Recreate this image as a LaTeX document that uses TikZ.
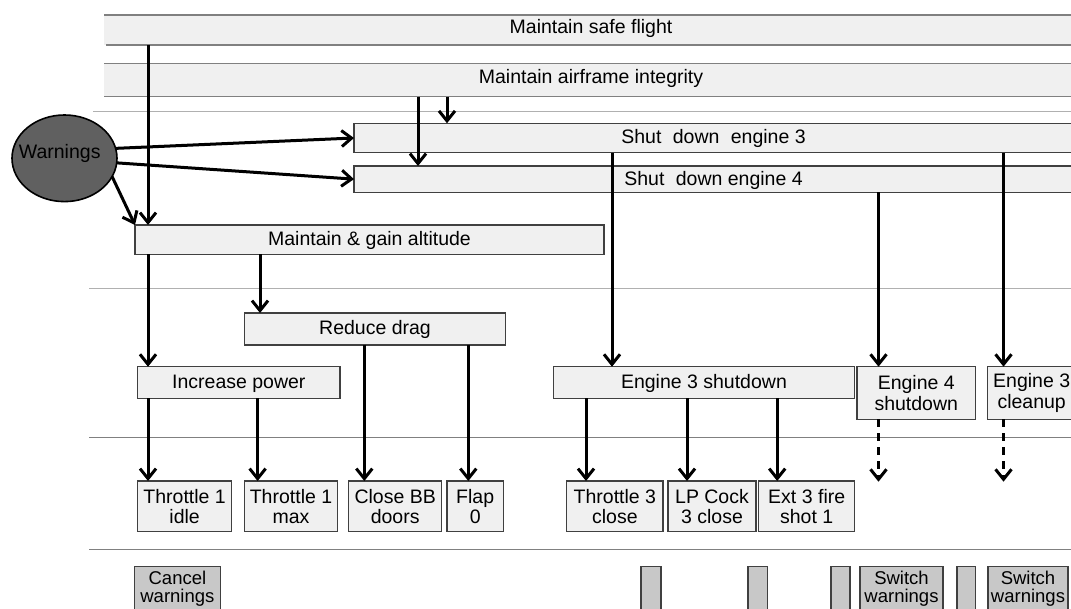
\documentclass[tikz,border=0pt]{standalone}
\usepackage{fontspec}
\setmainfont{Liberation Sans}
\usetikzlibrary{arrows.meta,shapes.geometric}
\definecolor{boxfill}{HTML}{F0F0F0}
\definecolor{botfill}{HTML}{C8C8C8}
\definecolor{warnfill}{HTML}{606060}
\definecolor{lightsep}{HTML}{B0B0B0}
\definecolor{darksep}{HTML}{808080}
\definecolor{boxline}{HTML}{404040}
\tikzset{
  box/.style={rectangle, draw=boxline, line width=1.3pt, fill=boxfill, inner sep=0pt, outer sep=0pt,
    font=\fontsize{19.5}{20.5}\selectfont, text height=14pt, text depth=2pt},
  box2/.style={rectangle, draw=boxline, line width=1.3pt, fill=boxfill, inner sep=0pt, outer sep=0pt,
    font=\fontsize{19.5}{20.5}\selectfont, align=center},
  botbox/.style={rectangle, draw=boxline, line width=1.3pt, fill=botfill, inner sep=0pt, outer sep=0pt,
    font=\fontsize{18.5}{17.6}\selectfont, align=center},
  band/.style={rectangle, fill=boxfill, inner sep=0pt, outer sep=0pt,
    font=\fontsize{19.5}{20.5}\selectfont, text height=14pt, text depth=6pt},
  bandline/.style={draw=darksep, line width=1.5pt},
  sepl/.style={draw=lightsep, line width=1.2pt},
  sepd/.style={draw=darksep, line width=1.2pt},
  arr/.style={draw=black, line width=3pt, -{Straight Barb[length=10pt,width=16pt]}},
  darr/.style={arr, dash pattern=on 8pt off 6pt},
  warnshape/.style={ellipse, draw=black, line width=1.6pt, fill=warnfill, inner sep=0pt, outer sep=0pt}
}
\begin{document}
\begin{tikzpicture}[x=1pt,y=-1pt]
\clip (0,0) rectangle (1071,609);
\fill[white] (0,0) rectangle (1071,609);
% separators
\draw[sepl] (93,111.7) -- (1071,111.7);
\draw[sepl] (89,288.3) -- (1071,288.3);
\draw[sepd] (89,437.5) -- (1071,437.5);
\draw[sepd] (89,549.3) -- (1071,549.3);
% bands
\node[band, minimum width=974pt, minimum height=30pt] (band1) at (591,30) {Maintain safe flight};
\draw[bandline] (band1.north west) -- (band1.north east);
\draw[bandline] ([xshift=2pt]band1.south west) -- (band1.south east);
\node[band, minimum width=974pt, minimum height=33.4pt] (band2) at (591,80) {Maintain airframe integrity};
\draw[bandline] (band2.north west) -- (band2.north east);
\draw[bandline] (band2.south west) -- (band2.south east);
% goal boxes
\node[box, minimum width=719pt, minimum height=29.4pt] (sd3) at (713.5,138) {Shut\hspace{6pt} down\hspace{6pt} engine 3};
\node[box, minimum width=719pt, minimum height=26.3pt] (sd4) at (713.5,179.15) {Shut\hspace{6pt} down engine 4};
\node[box, minimum width=469pt, minimum height=29.3pt] (mga) at (369.5,239.65) {Maintain \& gain altitude};
\node[box, minimum width=261pt, minimum height=32pt] (rd) at (375,329) {Reduce drag};
\node[box, minimum width=202.3pt, minimum height=31.6pt] (inc) at (238.85,382.5) {Increase power};
\node[box, minimum width=301.1pt, minimum height=31.6pt] (e3s) at (703.95,382.5) {Engine 3 shutdown};
\node[box2, minimum width=118.5pt, minimum height=52.6pt] (e4s) at (916.25,393) {Engine 4\\shutdown};
\node[box2, minimum width=88.7pt, minimum height=52.6pt] (e3c) at (1031.65,393) {Engine 3\\cleanup};
% action boxes
\node[box2, minimum width=93.8pt, minimum height=50.7pt] (t1i) at (184.6,506.35) {Throttle 1\\idle};
\node[box2, minimum width=93pt, minimum height=50.7pt] (t1m) at (291,506.35) {Throttle 1\\max};
\node[box2, minimum width=93.3pt, minimum height=50.7pt] (cbb) at (395.15,506.35) {Close BB\\doors};
\node[box2, minimum width=56.4pt, minimum height=50.7pt] (flap) at (475.2,506.35) {Flap\\0};
\node[box2, minimum width=96.2pt, minimum height=50.7pt] (t3c) at (614.9,506.35) {Throttle 3\\close};
\node[box2, minimum width=88pt, minimum height=50.7pt] (lpc) at (712,506.35) {LP Cock\\3 close};
\node[box2, minimum width=96pt, minimum height=50.7pt] (ext) at (806.7,506.35) {Ext 3 fire\\shot 1};
% bottom row
\node[botbox, minimum width=86.2pt, minimum height=43.6pt] (cw) at (177.4,588.5) {Cancel\\warnings};
\node[botbox, minimum width=20pt, minimum height=43.6pt] (b1) at (651,588.5) {};
\node[botbox, minimum width=19.5pt, minimum height=43.6pt] (b2) at (757.75,588.5) {};
\node[botbox, minimum width=19pt, minimum height=43.6pt] (b3) at (840.5,588.5) {};
\node[botbox, minimum width=83pt, minimum height=43.6pt] (sw1) at (901.5,588.5) {Switch\\warnings};
\node[botbox, minimum width=18.7pt, minimum height=43.6pt] (b4) at (966.35,588.5) {};
\node[botbox, minimum width=80pt, minimum height=43.6pt] (sw2) at (1028,588.5) {Switch\\warnings};
% warnings
\node[warnshape, minimum width=105pt, minimum height=86.6pt] (warn) at (64.5,158.3) {};
\node[inner sep=0pt, font=\fontsize{19.5}{20.5}\selectfont] (warntext) at (59.7,153) {Warnings};
% column coordinates
\coordinate (cA) at (148,0);
\coordinate (cB) at (260,0);
\coordinate (cC) at (257.6,0);
\coordinate (cD) at (364.3,0);
\coordinate (cE) at (468.3,0);
\coordinate (cF) at (418,0);
\coordinate (cG) at (447,0);
\coordinate (cH) at (612,0);
\coordinate (cI) at (878.5,0);
\coordinate (cJ) at (1003.5,0);
\coordinate (cK) at (586,0);
\coordinate (cL) at (687,0);
\coordinate (cM) at (777.2,0);
\coordinate (d1) at (878.5,481.7);
\coordinate (d2) at (1003.5,481.7);
% connectors
\draw[arr] (cA |- band1.south) -- (cA |- mga.north);
\draw[arr] (cA |- mga.south) -- (cA |- inc.north);
\draw[arr] (cA |- inc.south) -- (cA |- t1i.north);
\draw[arr] (cB |- mga.south) -- (cB |- rd.north);
\draw[arr] (cC |- inc.south) -- (cC |- t1m.north);
\draw[arr] (cD |- rd.south) -- (cD |- cbb.north);
\draw[arr] (cE |- rd.south) -- (cE |- flap.north);
\draw[arr] (cF |- band2.south) -- (cF |- sd4.north);
\draw[arr] (cG |- band2.south) -- (cG |- sd3.north);
\draw[arr] (warn.11) -- (sd3.west);
\draw[arr] (warn.-5) -- (sd4.west);
\draw[arr] (warn.-21) -- (mga.north west);
\draw[arr] (cH |- sd3.south) -- (cH |- e3s.north);
\draw[arr] (cJ |- sd3.south) -- (cJ |- e3c.north);
\draw[arr] (cI |- sd4.south) -- (cI |- e4s.north);
\draw[arr] (cK |- e3s.south) -- (cK |- t3c.north);
\draw[arr] (cL |- e3s.south) -- (cL |- lpc.north);
\draw[arr] (cM |- e3s.south) -- (cM |- ext.north);
\draw[darr] (cI |- e4s.south) -- (d1);
\draw[darr] (cJ |- e3c.south) -- (d2);
\end{tikzpicture}
\end{document}
